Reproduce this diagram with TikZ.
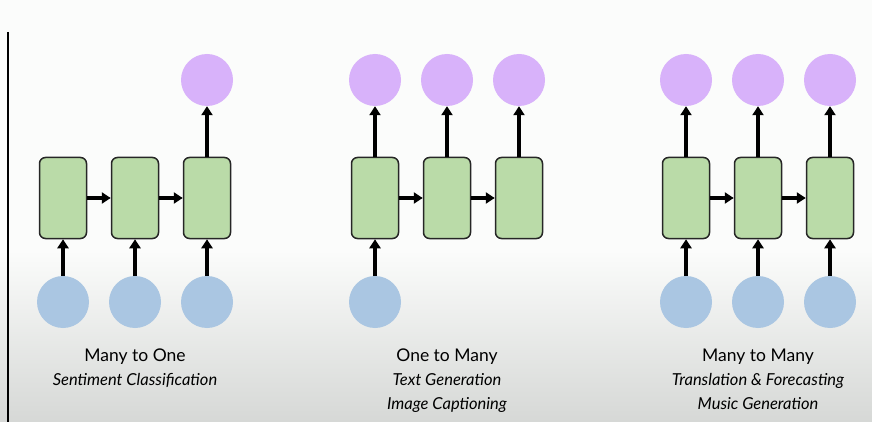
\documentclass[tikz,border=0pt]{standalone}
\usepackage{fontspec}
\setmainfont{Lato}
\usetikzlibrary{arrows.meta}
\definecolor{boxgreen}{RGB}{186,219,168}
\definecolor{outpurple}{RGB}{216,178,250}
\definecolor{inblue}{RGB}{170,198,226}
\definecolor{bgtop}{RGB}{251,252,251}
\definecolor{bgbot}{RGB}{214,216,214}
\begin{document}
\begin{tikzpicture}[x=1pt,y=-1pt,
  cell/.style={draw=black!85,line width=1.5pt,fill=boxgreen,rounded corners=6pt,minimum width=47pt,minimum height=81pt,inner sep=0pt},
  outc/.style={circle,fill=outpurple,minimum size=52pt,inner sep=0pt},
  inc/.style={circle,fill=inblue,minimum size=52pt,inner sep=0pt},
  arr/.style={line width=3.2pt,-{Triangle[width=11pt,length=9pt]}},
  title/.style={font=\fontsize{17.5}{20}\selectfont,anchor=base},
  sub/.style={font=\fontsize{16.5}{19}\selectfont\itshape,anchor=base}]
\useasboundingbox (0,0) rectangle (872,422);
\fill[bgtop] (0,0) rectangle (872,422);
\shade[top color=bgtop,bottom color=bgbot] (0,250) rectangle (872,422);
\draw[line width=2.8pt] (8,32) coordinate (vt) -- (8,422) coordinate (vb);
% left group: many to one
\foreach \i/\x in {1/63,2/135,3/207}{
  \node[cell] (a\i) at (\x,198) {};
  \node[inc] (ai\i) at (\x,302) {};
  \draw[arr] (ai\i) -- (a\i);
}
\node[outc] (ao3) at (207,80) {};
\draw[arr] (a1) -- (a2);
\draw[arr] (a2) -- (a3);
\draw[arr] (a3) -- (ao3);
% middle group: one to many
\foreach \i/\x in {1/375,2/447,3/519}{
  \node[cell] (b\i) at (\x,198) {};
  \node[outc] (bo\i) at (\x,80) {};
  \draw[arr] (b\i) -- (bo\i);
}
\node[inc] (bi1) at (375,302) {};
\draw[arr] (bi1) -- (b1);
\draw[arr] (b1) -- (b2);
\draw[arr] (b2) -- (b3);
% right group: many to many
\foreach \i/\x in {1/686,2/758,3/830}{
  \node[cell] (c\i) at (\x,198) {};
  \node[outc] (co\i) at (\x,80) {};
  \node[inc] (ci\i) at (\x,302) {};
  \draw[arr] (c\i) -- (co\i);
  \draw[arr] (ci\i) -- (c\i);
}
\draw[arr] (c1) -- (c2);
\draw[arr] (c2) -- (c3);
% labels
\node[title] (t1) at (135,361) {Many to One};
\node[sub] (s1) at (135,385) {Sentiment Classification};
\node[title] (t2) at (447,361) {One to Many};
\node[sub] (s2) at (447,385) {Text Generation};
\node[sub] (s2b) at (447,409) {Image Captioning};
\node[title] (t3) at (758,361) {Many to Many};
\node[sub] (s3) at (758,385) {Translation \& Forecasting};
\node[sub] (s3b) at (758,409) {Music Generation};
\end{tikzpicture}
\end{document}
